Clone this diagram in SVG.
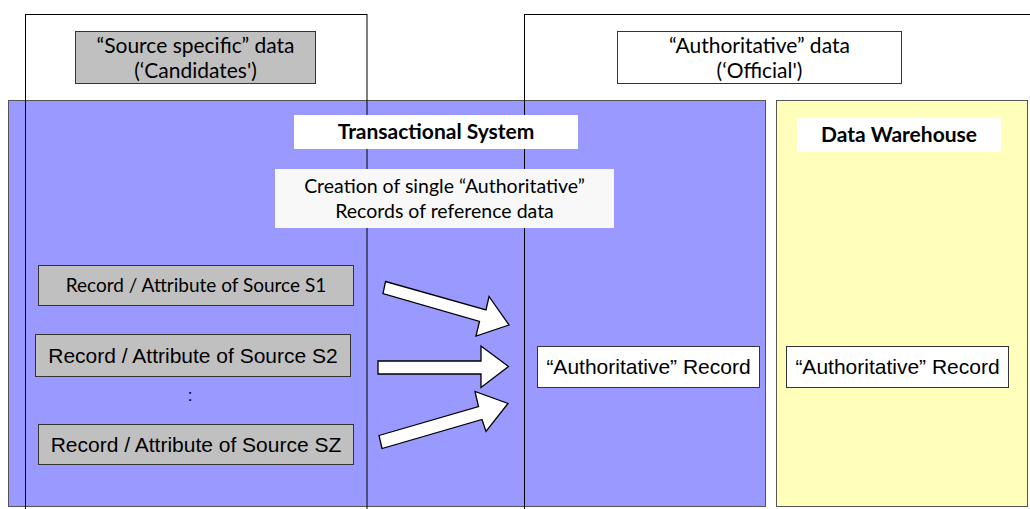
<svg xmlns="http://www.w3.org/2000/svg" width="1030" height="509" viewBox="0 0 1030 509">
  <style>
    .frame { fill: none; stroke: #000; stroke-width: 1; }
    .label { stroke: #333; stroke-width: 1; }
    .cal { font-family: Lato, "Open Sans", sans-serif; fill: #000; text-anchor: middle; }
    .ari { font-family: "Liberation Sans", Arial, sans-serif; fill: #000; text-anchor: middle; }
    .arrow { fill: #fff; stroke: #000; stroke-width: 1.3; stroke-linejoin: miter; }
  </style>

  <rect width="1030" height="509" fill="#fff"/>

  <!-- system areas -->
  <g id="transactional-area">
    <rect x="8.5" y="100.5" width="757" height="406" fill="#9999FF" stroke="#555" stroke-width="1"/>
  </g>
  <g id="warehouse-area">
    <rect x="776.5" y="100.5" width="251" height="406" fill="#FFFFBB" stroke="#555" stroke-width="1"/>
  </g>

  <!-- data-class columns -->
  <g id="source-column">
    <rect class="frame" x="25.5" y="14.5" width="341.5" height="510"/>
  </g>
  <g id="authoritative-column">
    <rect class="frame" x="524.5" y="14.5" width="520" height="510"/>
  </g>

  <!-- column headers -->
  <g id="source-header">
    <rect class="label" x="75.5" y="31.5" width="240" height="52" fill="#C0C0C0"/>
    <text class="cal" x="195.5" y="53" font-size="21">“Source specific” data</text>
    <text class="cal" x="195.5" y="78" font-size="21">(‘Candidates')</text>
  </g>
  <g id="authoritative-header">
    <rect class="label" x="617.5" y="31.5" width="284" height="52" fill="#fff"/>
    <text class="cal" x="759.5" y="53" font-size="21">“Authoritative” data</text>
    <text class="cal" x="759.5" y="78" font-size="21">(‘Official')</text>
  </g>

  <!-- system titles -->
  <g id="transactional-title">
    <rect x="294" y="115" width="284" height="34" fill="#fff"/>
    <text class="cal" x="436" y="139" font-size="21" font-weight="bold">Transactional System</text>
  </g>
  <g id="warehouse-title">
    <rect x="797" y="118" width="204" height="34" fill="#fff"/>
    <text class="cal" x="899" y="142" font-size="21" font-weight="bold">Data Warehouse</text>
  </g>
  <g id="creation-note">
    <rect x="275" y="169" width="339" height="59" fill="#F8F8F8"/>
    <text class="cal" x="444.5" y="193" font-size="19.5">Creation of single “Authoritative”</text>
    <text class="cal" x="444.5" y="218" font-size="19.5">Records of reference data</text>
  </g>

  <!-- source records -->
  <g id="record-s1">
    <rect class="label" x="38.5" y="265.5" width="315" height="40" fill="#C0C0C0"/>
    <text class="cal" x="196" y="292" font-size="19">Record / Attribute of Source S1</text>
  </g>
  <g id="record-s2">
    <rect class="label" x="35.5" y="334.5" width="315" height="42" fill="#C0C0C0"/>
    <text class="ari" x="193" y="363" font-size="21">Record / Attribute of Source S2</text>
  </g>
  <g id="ellipsis">
    <text class="ari" x="190" y="401" font-size="17">:</text>
  </g>
  <g id="record-sz">
    <rect class="label" x="38.5" y="424.5" width="315" height="40" fill="#C0C0C0"/>
    <text class="ari" x="196" y="452" font-size="21">Record / Attribute of Source SZ</text>
  </g>

  <!-- authoritative records -->
  <g id="auth-record-ts">
    <rect class="label" x="537.5" y="346.5" width="222" height="41" fill="#fff"/>
    <text class="ari" x="648.5" y="374" font-size="21">“Authoritative” Record</text>
  </g>
  <g id="auth-record-dw">
    <rect class="label" x="786.5" y="346.5" width="222" height="41" fill="#fff"/>
    <text class="ari" x="897.5" y="374" font-size="21">“Authoritative” Record</text>
  </g>

  <!-- block arrows -->
  <g id="connectors">
    <polygon class="arrow" points="385.5,281.5 486,310 489,296.5 509,325 476,336 479.5,321.5 383,293.5"/>
    <polygon class="arrow" points="378,361 481,361 481,346 508.5,366.5 481,387.5 481,374 378,374"/>
    <polygon class="arrow" points="379,435.5 478.5,406.5 475,391.5 508,403.5 486,431.5 482,419.5 382,448.5"/>
  </g>
</svg>
